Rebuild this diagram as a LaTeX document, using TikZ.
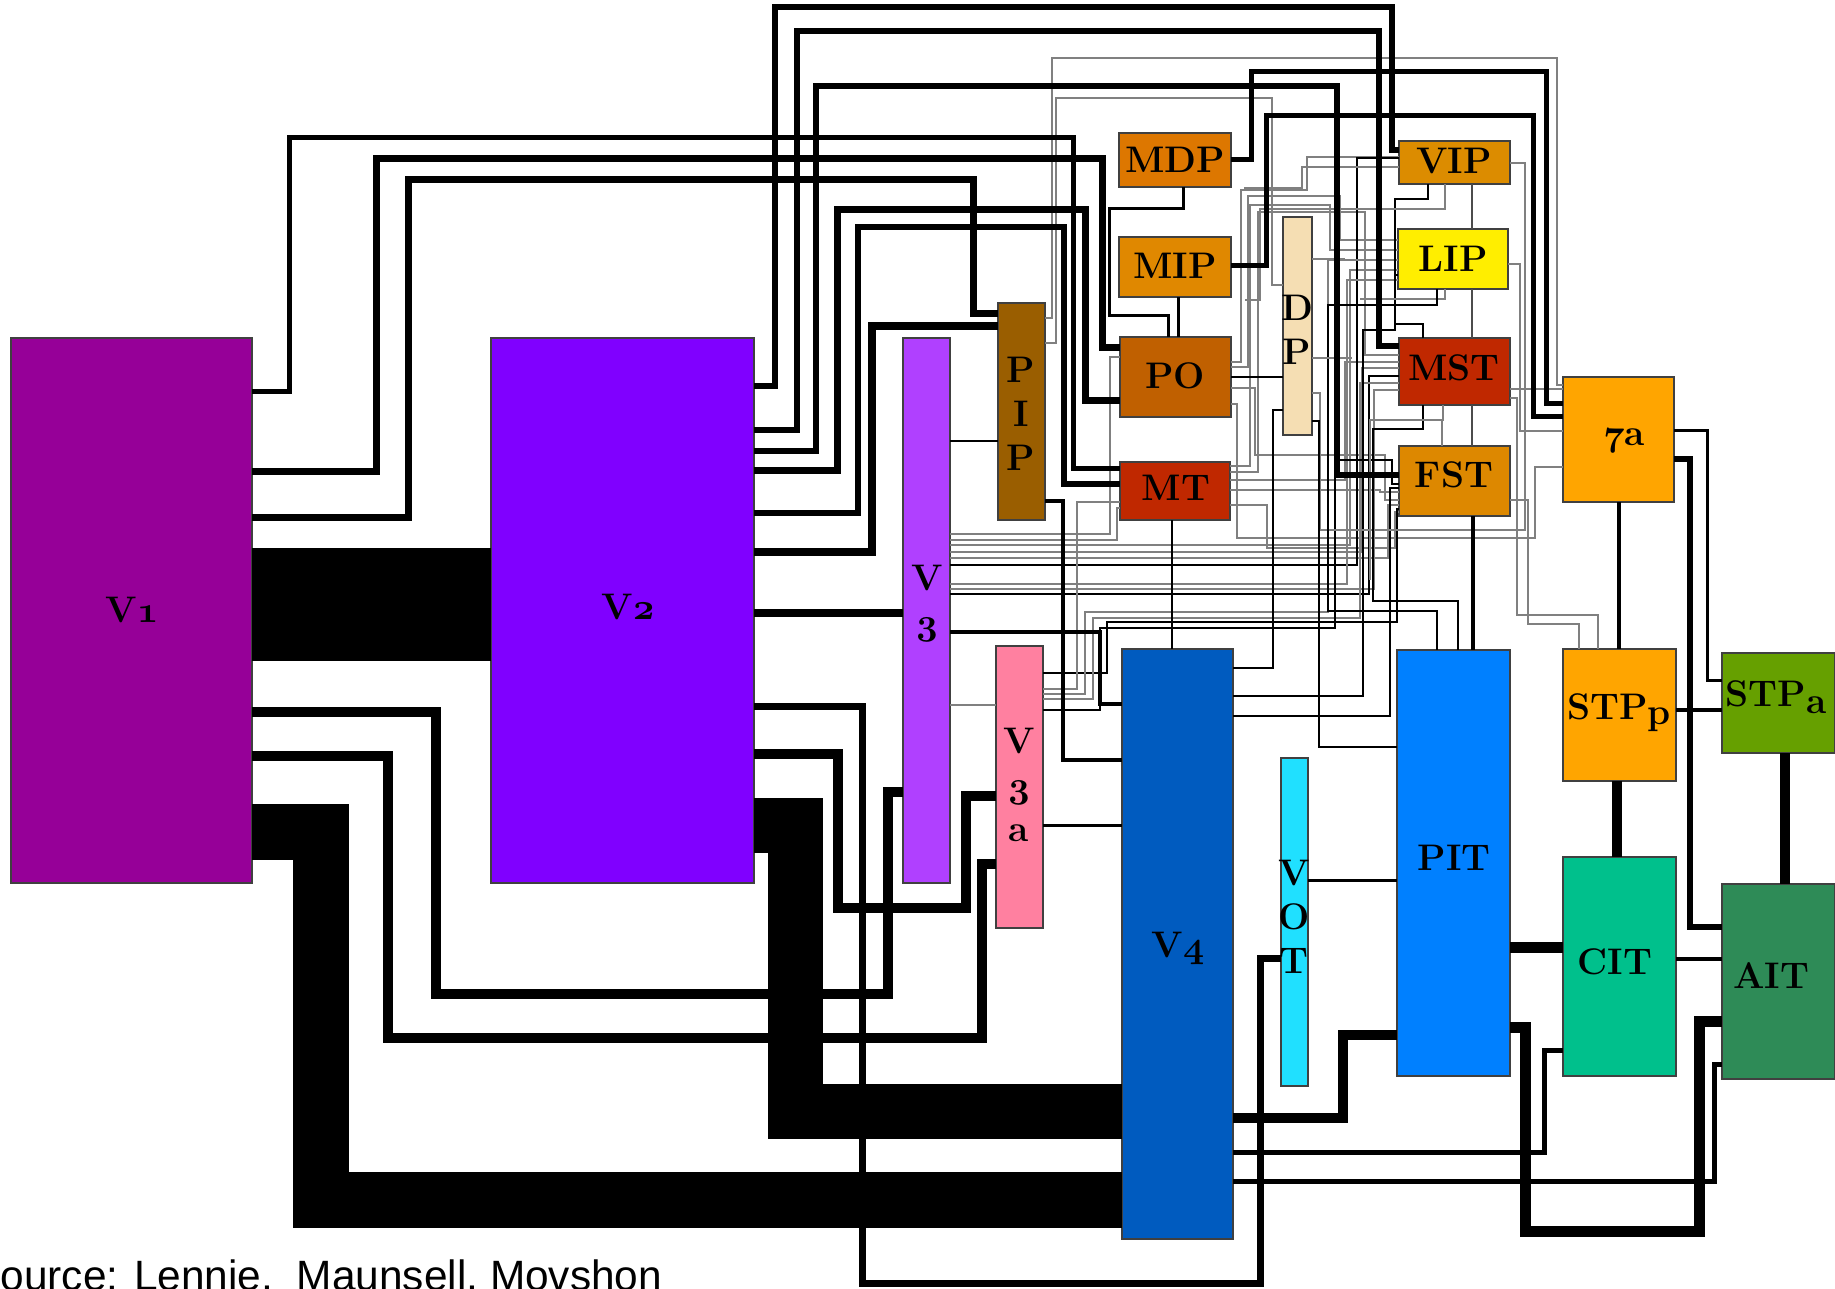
\RequirePackage{fix-cm}
\documentclass[tikz,border=0pt]{standalone}
\usepackage{fontspec}
\usetikzlibrary{fit}
\newfontfamily\srcfont{Liberation Sans}
\newcommand\osn[1]{{\usefont{OML}{cmm}{b}{it}#1}}
\definecolor{cVone}{RGB}{150,0,152}
\definecolor{cVtwo}{RGB}{128,0,255}
\definecolor{cVthree}{RGB}{176,64,255}
\definecolor{cPIP}{RGB}{154,94,0}
\definecolor{cVthreea}{RGB}{255,128,160}
\definecolor{cMDP}{RGB}{221,119,0}
\definecolor{cMIP}{RGB}{224,136,0}
\definecolor{cPO}{RGB}{192,96,0}
\definecolor{cMT}{RGB}{192,40,0}
\definecolor{cDP}{RGB}{245,222,179}
\definecolor{cVIP}{RGB}{220,140,0}
\definecolor{cLIP}{RGB}{255,238,0}
\definecolor{cFST}{RGB}{221,136,0}
\definecolor{cSeven}{RGB}{255,165,0}
\definecolor{cSTPa}{RGB}{102,160,0}
\definecolor{cCIT}{RGB}{0,192,140}
\definecolor{cAIT}{RGB}{46,139,87}
\definecolor{cVfour}{RGB}{0,91,191}
\definecolor{cPIT}{RGB}{0,128,255}
\definecolor{cVOT}{RGB}{32,224,255}
\definecolor{wgray}{RGB}{128,128,128}
\tikzset{
  area/.style={draw=black!75, line width=0.6pt, inner sep=0pt, outer sep=0pt, rectangle},
  lab/.style={font=\fontsize{18.5}{22}\selectfont\bfseries, inner sep=0pt, align=center},
  wire/.style={draw=black, line width=#1},
  thin/.style={draw=black, line width=1.1pt},
  gthin/.style={draw=wgray, line width=0.9pt},
}
\begin{document}
\begin{tikzpicture}[x=0.5pt,y=-0.5pt]
\useasboundingbox (0,0) rectangle (1835,1289);
% ---------------- boxes ----------------
\node[area, fill=cVone, fit={(11,338) (252,883)}] (V1) {};
\node[area, fill=cVtwo, fit={(491,338) (754,883)}] (V2) {};
\node[area, fill=cVthree, fit={(903,338) (950,883)}] (V3) {};
\node[area, fill=cPIP, fit={(998,303) (1045,520)}] (PIP) {};
\node[area, fill=cVthreea, fit={(996,646) (1043,928)}] (V3a) {};
\node[area, fill=cMDP, fit={(1119,133) (1231,187)}] (MDP) {};
\node[area, fill=cMIP, fit={(1119,237) (1231,297)}] (MIP) {};
\node[area, fill=cPO, fit={(1120,337) (1231,417)}] (PO) {};
\node[area, fill=cMT, fit={(1120,462) (1230,520)}] (MT) {};
\node[area, fill=cDP, fit={(1283,217) (1312,435)}] (DP) {};
\node[area, fill=cVIP, fit={(1399,141) (1510,184)}] (VIP) {};
\node[area, fill=cLIP, fit={(1398,229) (1508,289)}] (LIP) {};
\node[area, fill=cMT, fit={(1399,338) (1510,405)}] (MST) {};
\node[area, fill=cFST, fit={(1399,446) (1510,516)}] (FST) {};
\node[area, fill=cSeven, fit={(1563,377) (1674,502)}] (7a) {};
\node[area, fill=cVfour, fit={(1122,649) (1233,1239)}] (V4) {};
\node[area, fill=cVOT, fit={(1281,758) (1308,1086)}] (VOT) {};
\node[area, fill=cPIT, fit={(1397,650) (1510,1076)}] (PIT) {};
\node[area, fill=cSeven, fit={(1563,649) (1676,781)}] (STPp) {};
\node[area, fill=cSTPa, fit={(1722,653) (1835,753)}] (STPa) {};
\node[area, fill=cCIT, fit={(1563,857) (1676,1076)}] (CIT) {};
\node[area, fill=cAIT, fit={(1722,884) (1835,1079)}] (AIT) {};
% ---------------- thin gray wires ----------------
\draw[gthin] (PIP.east |- 0,318) -| (1052,58) -| (1557,385) -- (7a.west |- 0,385);
\draw[gthin] (PIP.east |- 0,343) -| (1056,98) -| (1272,285) -- (DP.west |- 0,285);
\draw[gthin] (PO.east |- 0,362) -| (1241,190) -| (1307,157) -- (VIP.west |- 0,157);
\draw[gthin] (PO.east |- 0,367) -| (1248,196) -| (1340,240) -- (LIP.west |- 0,240);
\draw[gthin] (PO.east |- 0,388) -| (1255,455) -| (1385,500) -- (FST.west |- 0,500);
\draw[gthin] (PO.east |- 0,404) -| (1237,538) -| (1535,467) -- (7a.west |- 0,467);
\draw[gthin] (MT.east |- 0,466) -| (1250,205) -| (1330,250) -- (LIP.west |- 0,250);
\draw[gthin] (MT.east |- 0,472) -| (1258,212) -| (1365,355) -- (MST.west |- 0,355);
\draw[gthin] (MT.east |- 0,480) -| (1345,362) -- (MST.west |- 0,362);
\draw[gthin] (MT.east |- 0,490) -| (1380,492) -- (FST.west |- 0,492);
\draw[gthin] (MT.east |- 0,505) -| (1267,548) -- (1395,548) -- (1395,512) -- (FST.west |- 0,512);
\draw[gthin] (V3.east |- 0,534) -| (1110,357) -- (PO.west |- 0,357);
\draw[gthin] (V3.east |- 0,540) -| (1117,508) -- (MT.west |- 0,508);
\draw[gthin] (V3.east |- 0,545) -| (1350,270) -- (LIP.west |- 0,270);
\draw[gthin] (V3.east |- 0,552) -| (1362,368) -- (MST.west |- 0,368);
\draw[gthin] (V3.east |- 0,558) -| (1388,505) -- (FST.west |- 0,505);
\draw[thin]  (V3.east |- 0,565) -| (1357,158) -- (VIP.west |- 0,158);
\draw[gthin] (V3.east |- 0,584) -| (1347,280) -- (LIP.west |- 0,280);
\draw[gthin] (V3.east |- 0,589) -| (1374,390) -- (MST.west |- 0,390);
\draw[thin]  (V3.east |- 0,594) -| (1369,376) -- (MST.west |- 0,376);
\draw[gthin] (V3.east |- 0,705) -- (V3a.west |- 0,705);
\draw[thin]  (V3a.east |- 0,673) -| (1107,622) -- (1397,622) |- (FST.west |- 0,509);
\draw[gthin] (V3a.east |- 0,689) -| (1077,502) -- (MT.west |- 0,502);
\draw[gthin] (V3a.east |- 0,694) -| (1085,612) -| (1328,260) -- (LIP.west |- 0,260);
\draw[gthin] (V3a.east |- 0,699) -| (1093,618) -| (1360,383) -- (MST.west |- 0,383);
\draw[thin]  (V3a.east |- 0,710) -| (1100,628) -| (1335,440) -- (1335,460) -| (1392,484) -- (FST.west |- 0,484);
\draw[thin]  (V4.east |- 0,668) -| (1273,410) -- (DP.west |- 0,410);
\draw[thin]  (V4.east |- 0,696) -| (1363,330) -- (1395,330) |- (LIP.west |- 0,275);
\draw[thin]  (V4.east |- 0,716) -| (1390,488) -- (FST.west |- 0,488);
\draw[gthin] (DP.east |- 0,393) -| (1320,530) -| (1525,163) -- (VIP.east |- 0,163);
\draw[gthin] (LIP.east |- 0,264) -| (1520,431) -- (7a.west |- 0,431);
\draw[gthin] (MST.east |- 0,389) -- (7a.west |- 0,389);
\draw[gthin] (MST.east |- 0,398) -| (1517,615) -| (1598,649);
\draw[gthin] (FST.east |- 0,500) -| (1528,624) -| (1579,649);
\draw[thin] (VIP.south -| 1428,0) |- (1395,199) |- (1423,324) -- (MST.north -| 1423,0);
\draw[gthin] (VIP.south -| 1445,0) |- (1260,209) -- (1260,300) -- (1245,300);
\draw[gthin] (VIP.west |- 0,167) -- (1302,167) -- (1302,188) -- (1244,188);
\draw[gthin] (LIP.south -| 1445,0) |- (1360,299);
\draw[thin]  (LIP.south -| 1437,0) |- (1328,305) |- (1437,611) -- (PIT.north -| 1437,0);
\draw[thin]  (MST.south -| 1423,0) |- (1373,429) |- (1458,601) -- (PIT.north -| 1458,0);
\draw[gthin] (MST.south -| 1443,0) |- (1370,420) -- (1370,580);
\draw[gthin] (FST.north -| 1442,0) |- (1385,420);
\draw[gthin] (DP.east |- 0,259) -- (1345,259);
\draw[gthin] (DP.east |- 0,358) -- (1352,358);
% vertical chain VIP-LIP-MST-FST
\draw[thin, draw=black!70] (VIP.south -| 1472,0) -- (LIP.north -| 1472,0);
\draw[thin, draw=black!70] (LIP.south -| 1472,0) -- (MST.north -| 1472,0);
\draw[thin, draw=black!70] (MST.south -| 1472,0) -- (FST.north -| 1472,0);
% ---------------- medium / dark thin wires ----------------
\draw[wire=1.5pt] (MDP.south -| 1183,0) |- (1109,209) |- (1168,315) -- (PO.north -| 1168,0);
\draw[wire=1.5pt] (MIP.south -| 1178,0) -- (PO.north -| 1178,0);
\draw[wire=1.2pt] (PO.east |- 0,377) -- (DP.west |- 0,377);
\draw[wire=1.2pt] (MT.south -| 1172,0) -- (V4.north -| 1172,0);
\draw[wire=1.2pt] (DP.east |- 0,421) -| (1319,747) -- (PIT.west |- 0,747);
\draw[wire=1.3pt] (V3.east |- 0,441) -- (PIP.west |- 0,441);
\draw[wire=2pt] (V3.east |- 0,632) -| (1100,704) -- (V4.west |- 0,704);
\draw[wire=1.75pt] (PIP.east |- 0,501) -| (1063,760) -- (V4.west |- 0,760);
\draw[wire=1.5pt] (V3a.east |- 0,825) -- (V4.west |- 0,825);
\draw[wire=1.5pt] (VOT.east |- 0,880) -- (PIT.west |- 0,880);
\draw[wire=2pt] (FST.south -| 1473,0) -- (PIT.north -| 1473,0);
\draw[wire=2pt] (7a.south -| 1619,0) -- (STPp.north -| 1619,0);
\draw[wire=1.5pt] (7a.east |- 0,430) -| (1707,680) -- (STPa.west |- 0,680);
\draw[wire=2pt] (STPp.east |- 0,710) -- (STPa.west |- 0,710);
% ---------------- thick wires ----------------
\draw[wire=2.5pt] (V1.east |- 0,391) -| (289,138) -| (1073,468) -- (MT.west |- 0,468);
\draw[wire=3.5pt] (V1.east |- 0,471) -| (376,159) -| (1102,347) -- (PO.west |- 0,347);
\draw[wire=3.5pt] (V1.east |- 0,517) -| (408,180) -| (973,313) -- (PIP.west |- 0,313);
\draw[wire=56.5pt] (V1.east |- 0,604.5) -- (V2.west |- 0,604.5);
\draw[wire=5pt] (V1.east |- 0,712) -| (436,994) -| (888,792) -- (V3.west |- 0,792);
\draw[wire=5pt] (V1.east |- 0,756) -| (388,1038) -| (982,864) -- (V3a.west |- 0,864);
\draw[wire=28pt] (V1.east |- 0,832) -| (321,1200) -- (V4.west |- 0,1200);
\draw[wire=2.75pt] (V2.east |- 0,386) -| (775,7) -| (1392,150) -- (VIP.west |- 0,150);
\draw[wire=2.75pt] (V2.east |- 0,430) -| (797,31) -| (1379,346) -- (MST.west |- 0,346);
\draw[wire=3pt] (V2.east |- 0,451) -| (816,86) -| (1337,475) -- (FST.west |- 0,475);
\draw[wire=3.5pt] (V2.east |- 0,470) -| (837,210) -| (1085,400) -- (PO.west |- 0,400);
\draw[wire=3pt] (V2.east |- 0,513) -| (858,227) -| (1064,484) -- (MT.west |- 0,484);
\draw[wire=4pt] (V2.east |- 0,552) -| (872,326) -- (PIP.west |- 0,326);
\draw[wire=4pt] (V2.east |- 0,613) -- (V3.west |- 0,613);
\draw[wire=3.5pt] (V2.east |- 0,706) -| (862,1283) -| (1260,958) -- (VOT.west |- 0,958);
\draw[wire=5pt] (V2.east |- 0,754) -| (838,908) -| (966,796) -- (V3a.west |- 0,796);
\draw[wire=27.5pt] (V2.east |- 0,825.5) -| (795,1111) -- (V4.west |- 0,1111);
\draw[wire=2.5pt] (MDP.east |- 0,160) -| (1251,72) -| (1546,403) -- (7a.west |- 0,403);
\draw[wire=2.5pt] (MIP.east |- 0,265) -| (1266,116) -| (1533,416) -- (7a.west |- 0,416);
\draw[wire=5pt] (V4.east |- 0,1118) -| (1343,1035) -- (PIT.west |- 0,1035);
\draw[wire=2.5pt] (V4.east |- 0,1152) -| (1544,1050) -- (CIT.west |- 0,1050);
\draw[wire=2.5pt] (V4.east |- 0,1181) -| (1714,1064) -- (AIT.west |- 0,1064);
\draw[wire=5.5pt] (PIT.east |- 0,1027) -| (1525,1231) -| (1699,1021) -- (AIT.west |- 0,1021);
\draw[wire=5.5pt] (PIT.east |- 0,947) -- (CIT.west |- 0,947);
\draw[wire=2.25pt] (CIT.east |- 0,959) -- (AIT.west |- 0,959);
\draw[wire=3pt] (7a.east |- 0,459) -| (1690,927) -- (AIT.west |- 0,927);
\draw[wire=5pt] (STPp.south -| 1617,0) -- (CIT.north -| 1617,0);
\draw[wire=5pt] (STPa.south -| 1785,0) -- (AIT.north -| 1785,0);
% ---------------- labels ----------------
\node[lab] (V1l) at (132,610) {V\osn{1}};
\node[lab] (V2l) at (628,607) {V\osn{2}};
\node[lab] (V3l) at (927,603) {V\\\osn{3}};
\node[lab] (PIPl) at (1021,414) {P\\I\\P};
\node[lab] (V3al) at (1019,785) {V\\\osn{3}\\a};
\node[lab] (MDPl) at (1175,160) {MDP};
\node[lab] (MIPl) at (1175,266) {MIP};
\node[lab] (POl) at (1175,376) {PO};
\node[lab] (MTl) at (1176,488) {MT};
\node[lab] (DPl) at (1297,330) {D\\P};
\node[lab] (VIPl) at (1454,161) {VIP};
\node[lab] (LIPl) at (1453,259) {LIP};
\node[lab] (MSTl) at (1454,368) {MST};
\node[lab] (FSTl) at (1454,475) {FST};
\node[lab] (7al) at (1624,441) {\osn{7}a};
\node[lab] (V4l) at (1178,948) {V\osn{4}};
\node[lab] (VOTl) at (1294,917) {V\\O\\T};
\node[lab] (PITl) at (1454,858) {PIT};
\node[lab] (STPpl) at (1619,713) {STP\raisebox{-2.5pt}{p}};
\node[lab] (STPal) at (1776,697) {STP\raisebox{-3.5pt}{a}};
\node[lab] (CITl) at (1615,962) {CIT};
\node[lab] (AITl) at (1771,976) {AIT};
\node[anchor=base west, inner sep=0pt, font=\srcfont\fontsize{21.2}{24}\selectfont] (src) at (-28,1290) {Source: Lennie,\ \ Maunsell, Movshon};
\end{tikzpicture}
\end{document}
